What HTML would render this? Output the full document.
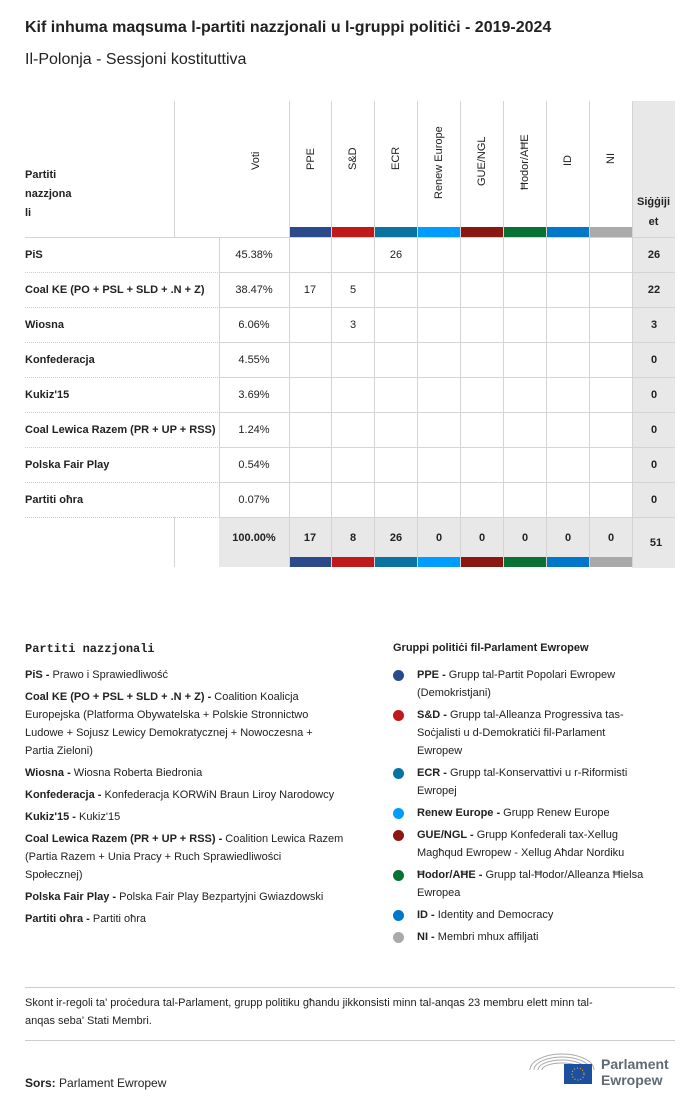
<!DOCTYPE html>
<html><head><meta charset="utf-8"><style>
body{margin:0;width:700px;height:1108px;background:#fff;font-family:"Liberation Sans",sans-serif;color:#222;position:relative;overflow:hidden}
.a{position:absolute}
.t{font-size:11px;text-align:center}
.vl{position:absolute;width:1px;background:#d4d4d4}
.rot{position:absolute;transform-origin:0 0;transform:rotate(-90deg);font-size:11px;white-space:nowrap}
.b{font-weight:bold}
.leg{font-size:11px;line-height:18px;white-space:nowrap}
.leg p{margin:0 0 4px 0;position:relative}
.dot{position:absolute;width:11px;height:11px;border-radius:50%;left:-24px;top:4px}
</style></head><body>
<div class="a b" style="left:25px;top:19px;font-size:16px">Kif inhuma maqsuma l-partiti nazzjonali u l-gruppi politiċi - 2019-2024</div>
<div class="a" style="left:25px;top:51px;font-size:16px">Il-Polonja - Sessjoni kostituttiva</div>

<div class="a" style="left:632px;top:101px;width:43px;height:467px;background:#e8e8e8"></div>
<div class="a" style="left:219px;top:517px;width:413px;height:50px;background:#e8e8e8"></div>

<div class="a b" style="left:25px;top:166px;font-size:11px;line-height:19px">Partiti<br>nazzjona<br>li</div>
<div class="a b t" style="left:632px;top:192px;width:43px;line-height:20px">Siġġiji<br>et</div>
<div class="vl" style="left:174px;top:101px;height:136px"></div>
<div class="vl" style="left:174px;top:517px;height:50px"></div>
<div class="vl" style="left:219px;top:237px;height:280px"></div>

<div class="rot" style="left:250px;top:170px">Voti</div>
<div class="rot" style="left:305px;top:170px">PPE</div>
<div class="rot" style="left:347px;top:170px">S&amp;D</div>
<div class="rot" style="left:390px;top:170px">ECR</div>
<div class="rot" style="left:433px;top:199px">Renew Europe</div>
<div class="rot" style="left:476px;top:186px">GUE/NGL</div>
<div class="rot" style="left:519px;top:190px">Ħodor/AĦE</div>
<div class="rot" style="left:562px;top:166px">ID</div>
<div class="rot" style="left:605px;top:164px">NI</div>

<svg class="a" style="left:0;top:0" width="700" height="600">
<g fill="none" stroke="#d4d4d4">
<line x1="289.5" y1="101" x2="289.5" y2="567"/><line x1="331.5" y1="101" x2="331.5" y2="567"/>
<line x1="374.5" y1="101" x2="374.5" y2="567"/><line x1="417.5" y1="101" x2="417.5" y2="567"/>
<line x1="460.5" y1="101" x2="460.5" y2="567"/><line x1="503.5" y1="101" x2="503.5" y2="567"/>
<line x1="546.5" y1="101" x2="546.5" y2="567"/><line x1="589.5" y1="101" x2="589.5" y2="567"/>
<line x1="632.5" y1="101" x2="632.5" y2="567"/>
<line x1="25" y1="237.5" x2="675" y2="237.5"/>
</g>
<g stroke="#ccc" stroke-dasharray="1,1">
<line x1="25" y1="272.5" x2="219" y2="272.5"/><line x1="25" y1="307.5" x2="219" y2="307.5"/>
<line x1="25" y1="342.5" x2="219" y2="342.5"/><line x1="25" y1="377.5" x2="219" y2="377.5"/>
<line x1="25" y1="412.5" x2="219" y2="412.5"/><line x1="25" y1="447.5" x2="219" y2="447.5"/>
<line x1="25" y1="482.5" x2="219" y2="482.5"/><line x1="25" y1="517.5" x2="219" y2="517.5"/>
</g>
<g stroke="#d4d4d4">
<line x1="219" y1="272.5" x2="675" y2="272.5"/><line x1="219" y1="307.5" x2="675" y2="307.5"/>
<line x1="219" y1="342.5" x2="675" y2="342.5"/><line x1="219" y1="377.5" x2="675" y2="377.5"/>
<line x1="219" y1="412.5" x2="675" y2="412.5"/><line x1="219" y1="447.5" x2="675" y2="447.5"/>
<line x1="219" y1="482.5" x2="675" y2="482.5"/><line x1="219" y1="517.5" x2="675" y2="517.5"/>
</g>
<g>
<rect x="290" y="227" width="41" height="10" fill="#2b4a8c"/><rect x="332" y="227" width="42" height="10" fill="#c0191b"/>
<rect x="375" y="227" width="42" height="10" fill="#0a73a0"/><rect x="418" y="227" width="42" height="10" fill="#009cff"/>
<rect x="461" y="227" width="42" height="10" fill="#8b1713"/><rect x="504" y="227" width="42" height="10" fill="#0a7134"/>
<rect x="547" y="227" width="42" height="10" fill="#0077c8"/><rect x="590" y="227" width="42" height="10" fill="#aaaaaa"/>
<rect x="290" y="557" width="41" height="10" fill="#2b4a8c"/><rect x="332" y="557" width="42" height="10" fill="#c0191b"/>
<rect x="375" y="557" width="42" height="10" fill="#0a73a0"/><rect x="418" y="557" width="42" height="10" fill="#009cff"/>
<rect x="461" y="557" width="42" height="10" fill="#8b1713"/><rect x="504" y="557" width="42" height="10" fill="#0a7134"/>
<rect x="547" y="557" width="42" height="10" fill="#0077c8"/><rect x="590" y="557" width="42" height="10" fill="#aaaaaa"/>
</g>
<g font-family="Liberation Sans, sans-serif" font-size="11" fill="#222">
<g font-weight="bold">
<text x="25" y="258">PiS</text><text x="25" y="293">Coal KE (PO + PSL + SLD + .N + Z)</text>
<text x="25" y="328">Wiosna</text><text x="25" y="363">Konfederacja</text>
<text x="25" y="398">Kukiz'15</text><text x="25" y="433">Coal Lewica Razem (PR + UP + RSS)</text>
<text x="25" y="468">Polska Fair Play</text><text x="25" y="503">Partiti oħra</text>
</g>
<g text-anchor="middle">
<text x="254" y="258">45.38%</text><text x="254" y="293">38.47%</text><text x="254" y="328">6.06%</text>
<text x="254" y="363">4.55%</text><text x="254" y="398">3.69%</text><text x="254" y="433">1.24%</text>
<text x="254" y="468">0.54%</text><text x="254" y="503">0.07%</text>
<text x="396" y="258">26</text><text x="310" y="293">17</text><text x="353" y="293">5</text><text x="353" y="328">3</text>
</g>
<g text-anchor="middle" font-weight="bold">
<text x="654" y="258">26</text><text x="654" y="293">22</text><text x="654" y="328">3</text>
<text x="654" y="363">0</text><text x="654" y="398">0</text><text x="654" y="433">0</text>
<text x="654" y="468">0</text><text x="654" y="503">0</text>
<text x="254" y="541">100.00%</text><text x="310" y="541">17</text><text x="353" y="541">8</text>
<text x="396" y="541">26</text><text x="439" y="541">0</text><text x="482" y="541">0</text>
<text x="525" y="541">0</text><text x="568" y="541">0</text><text x="611" y="541">0</text>
<text x="656" y="546">51</text>
</g>
</g>
</svg>

<div class="a b" style="left:25px;top:642px;font-family:'Liberation Mono',monospace;font-size:12px">Partiti nazzjonali</div>
<div class="a leg" style="left:25px;top:666px">
<p><b>PiS -</b> Prawo i Sprawiedliwość</p>
<p><b>Coal KE (PO + PSL + SLD + .N + Z) -</b> Coalition Koalicja<br>Europejska (Platforma Obywatelska + Polskie Stronnictwo<br>Ludowe + Sojusz Lewicy Demokratycznej + Nowoczesna +<br>Partia Zieloni)</p>
<p><b>Wiosna -</b> Wiosna Roberta Biedronia</p>
<p><b>Konfederacja -</b> Konfederacja KORWiN Braun Liroy Narodowcy</p>
<p><b>Kukiz'15 -</b> Kukiz'15</p>
<p><b>Coal Lewica Razem (PR + UP + RSS) -</b> Coalition Lewica Razem<br>(Partia Razem + Unia Pracy + Ruch Sprawiedliwości<br>Społecznej)</p>
<p><b>Polska Fair Play -</b> Polska Fair Play Bezpartyjni Gwiazdowski</p>
<p><b>Partiti oħra -</b> Partiti oħra</p>
</div>

<div class="a b" style="left:393px;top:642px;font-size:11px">Gruppi politiċi fil-Parlament Ewropew</div>
<div class="a leg" style="left:417px;top:666px">
<p><span class="dot" style="background:#2b4a8c"></span><b>PPE -</b> Grupp tal-Partit Popolari Ewropew<br>(Demokristjani)</p>
<p><span class="dot" style="background:#c0191b"></span><b>S&amp;D -</b> Grupp tal-Alleanza Progressiva tas-<br>Soċjalisti u d-Demokratiċi fil-Parlament<br>Ewropew</p>
<p><span class="dot" style="background:#0a73a0"></span><b>ECR -</b> Grupp tal-Konservattivi u r-Riformisti<br>Ewropej</p>
<p><span class="dot" style="background:#009cff"></span><b>Renew Europe -</b> Grupp Renew Europe</p>
<p><span class="dot" style="background:#8b1713"></span><b>GUE/NGL -</b> Grupp Konfederali tax-Xellug<br>Magħqud Ewropew - Xellug Aħdar Nordiku</p>
<p><span class="dot" style="background:#0a7134"></span><b>Ħodor/AĦE -</b> Grupp tal-Ħodor/Alleanza Ħielsa<br>Ewropea</p>
<p><span class="dot" style="background:#0077c8"></span><b>ID -</b> Identity and Democracy</p>
<p><span class="dot" style="background:#aaaaaa"></span><b>NI -</b> Membri mhux affiljati</p>
</div>

<div class="a" style="left:25px;top:987px;width:650px;height:1px;background:#ccc"></div>
<div class="a" style="left:25px;top:994px;width:660px;font-size:11px;line-height:18px;white-space:nowrap">Skont ir-regoli ta' proċedura tal-Parlament, grupp politiku għandu jikkonsisti minn tal-anqas 23 membru elett minn tal-<br>anqas seba' Stati Membri.</div>
<div class="a" style="left:25px;top:1040px;width:650px;height:1px;background:#ccc"></div>
<div class="a" style="left:25px;top:1076px;font-size:12px"><b>Sors:</b> Parlament Ewropew</div>

<svg class="a" style="left:528px;top:1050px" width="70" height="36">
<g fill="none" stroke="#aaa" stroke-width="1">
<path d="M2 20 A32 16 0 0 1 66 20"/><path d="M6 20 A28 13 0 0 1 62 20"/><path d="M10 20 A24 10 0 0 1 58 20"/><path d="M14 20 A20 7 0 0 1 54 20"/>
</g>
<rect x="36" y="14" width="28" height="20" fill="#1d4fa0"/>
<circle cx="50" cy="24" r="6" fill="none" stroke="#ffcc00" stroke-dasharray="1,2"/>
</svg>
<div class="a b" style="left:601px;top:1056px;font-size:14px;line-height:16px;color:#5f6a73">Parlament<br>Ewropew</div>
</body></html>
